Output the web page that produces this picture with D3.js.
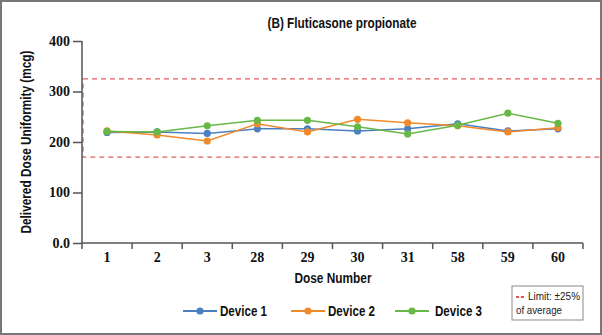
<!DOCTYPE html>
<html>
<head>
<meta charset="utf-8">
<script src="https://cdn.jsdelivr.net/npm/d3@7"></script>
<style>
  body { margin: 0; background: #fff; }
  .lbl { font-family: "Liberation Sans", Arial, sans-serif; font-weight: bold; fill: #111; }
  .num { font-family: "Liberation Serif", serif; font-weight: bold; font-size: 14px; fill: #111; }
</style>
</head>
<body>
<div id="chart"></div>
<script>
// dose uniformity, fluticasone panel

var doses = ['1', '2', '3', '28', '29', '30', '31', '58', '59', '60'];
var device1 = [219, 220, 217, 226, 226, 222, 226, 236, 222, 226];
var device2 = [222, 214, 202, 236, 220, 245, 238, 232, 220, 228];
var device3 = [221, 220, 232, 243, 243, 230, 216, 233, 257, 237];
var seriesNames = ['Device 1', 'Device 2', 'Device 3'];
var seriesColors = ['#4a7fc1', '#f18a2c', '#67b846'];
var limits = [170, 325];
var yTicks = [0, 100, 200, 300, 400];

var w_width = 602, w_height = 335;
var mLeft = 82, mRight = 583, mTop = 41, mBottom = 243;

var svg = d3.select('#chart').append('svg')
  .attr('width', w_width)
  .attr('height', w_height)

// outer frame
svg.append('rect')
  .attr('x', 1).attr('y', 1)
  .attr('width', w_width - 2).attr('height', w_height - 2)
  .attr('fill', 'none').attr('stroke', '#777').attr('stroke-width', 2)

var x = d3.scaleBand().domain(doses).range([mLeft, mRight])
var y = d3.scaleLinear().domain([0, 400]).range([mBottom, mTop])

// limit band (dashed box running off the right edge)
svg.append('rect')
  .attr('x', mLeft + 1).attr('y', y(limits[1]))
  .attr('width', w_width - mLeft + 5).attr('height', y(limits[0]) - y(limits[1]))
  .attr('fill', 'none').attr('stroke', '#e0625c')
  .attr('stroke-width', 1.3).style('stroke-dasharray', '5, 4')

// axes
var yAxis = svg.append('g')
  .attr('transform', 'translate(' + mLeft + ',0)')
  .call(d3.axisLeft(y).tickValues(yTicks).tickSize(9).tickPadding(3)
    .tickFormat(function(d) { return d == 0 ? '0.0' : d }))
yAxis.select('.domain').attr('d', 'M0,' + mTop + 'V' + mBottom)

var xAxis = svg.append('g')
  .attr('transform', 'translate(0,' + mBottom + ')')
  .call(d3.axisBottom(x).tickSize(0).tickPadding(9))
xAxis.select('.domain').attr('d', 'M' + mLeft + ',0H' + mRight)
xAxis.selectAll('.bound')
  .data(d3.range(doses.length + 1))
  .enter().append('line')
  .attr('class', 'bound')
  .attr('x1', function(i) { return mLeft + i * x.bandwidth() })
  .attr('x2', function(i) { return mLeft + i * x.bandwidth() })
  .attr('y1', 0).attr('y2', 6)

svg.selectAll('.domain, .tick line, .bound')
  .attr('stroke', '#555').attr('stroke-width', 1.5)
svg.selectAll('.tick text').attr('class', 'num').attr('font-size', null).attr('font-family', null)

// lines and markers
var allSeries = [device1, device2, device3]
var line = d3.line()
  .x(function(d, i) { return x(doses[i]) + x.bandwidth() / 2 })
  .y(function(d) { return y(d) })

var groups = svg.selectAll('.series')
  .data(allSeries)
  .enter().append('g').attr('class', 'series')

groups.append('path')
  .attr('d', line)
  .attr('fill', 'none')
  .attr('stroke', function(d, i) { return seriesColors[i] })
  .attr('stroke-width', 1.5)

groups.each(function(s, k) {
  d3.select(this).selectAll('circle')
    .data(s).enter().append('circle')
    .attr('cx', function(d, i) { return x(doses[i]) + x.bandwidth() / 2 })
    .attr('cy', function(d) { return y(d) })
    .attr('r', 3.6)
    .attr('fill', seriesColors[k])
})

// titles (font is narrower in the original, so squeeze to its width)
svg.append('text').attr('class', 'lbl').text('(B) Fluticasone propionate')
  .attr('x', 342).attr('y', 28).attr('text-anchor', 'middle').attr('font-size', 15)
  .attr('textLength', 149).attr('lengthAdjust', 'spacingAndGlyphs')
svg.append('text').attr('class', 'lbl').text('Dose Number')
  .attr('x', 333).attr('y', 283).attr('text-anchor', 'middle').attr('font-size', 14)
  .attr('textLength', 77).attr('lengthAdjust', 'spacingAndGlyphs')
svg.append('text').attr('class', 'lbl').text('Delivered Dose Uniformity (mcg)')
  .attr('transform', 'translate(31,142) rotate(-90)')
  .attr('text-anchor', 'middle').attr('font-size', 14)
  .attr('textLength', 183).attr('lengthAdjust', 'spacingAndGlyphs')

// legend
var legX = [183, 291, 395]
var legend = svg.selectAll('.leg')
  .data(seriesNames)
  .enter().append('g').attr('class', 'leg')
  .attr('transform', function(d, i) { return 'translate(' + legX[i] + ',311)' })
legend.append('line')
  .attr('x1', 0).attr('x2', 34).attr('y1', 0).attr('y2', 0)
  .attr('stroke', function(d, i) { return seriesColors[i] }).attr('stroke-width', 2)
legend.append('circle')
  .attr('cx', 17).attr('cy', 0).attr('r', 3.6)
  .attr('fill', function(d, i) { return seriesColors[i] })
legend.append('text').attr('class', 'lbl')
  .attr('x', function(d, i) { return i == 2 ? 40 : 37 }).attr('y', 5)
  .attr('font-size', 15)
  .attr('textLength', 47).attr('lengthAdjust', 'spacingAndGlyphs')
  .text(function(d) { return d })

// limit note box
var box = svg.append('g').attr('transform', 'translate(512,286)')
box.append('rect')
  .attr('width', 71).attr('height', 34)
  .attr('fill', '#fff').attr('stroke', '#888').attr('stroke-width', 1)
box.append('line')
  .attr('x1', 4).attr('x2', 14).attr('y1', 11).attr('y2', 11)
  .attr('stroke', '#d6201b').attr('stroke-width', 1.5).style('stroke-dasharray', '3, 2')
box.append('text').text('Limit: \u00b125%')
  .attr('x', 16).attr('y', 14)
  .attr('font-family', '"Liberation Sans", sans-serif').attr('font-size', 10).attr('fill', '#222')
  .attr('textLength', 52).attr('lengthAdjust', 'spacingAndGlyphs')
box.append('text').text('of average')
  .attr('x', 4).attr('y', 28)
  .attr('font-family', '"Liberation Sans", sans-serif').attr('font-size', 11).attr('fill', '#222')
  .attr('textLength', 46).attr('lengthAdjust', 'spacingAndGlyphs')
</script>
</body>
</html>
